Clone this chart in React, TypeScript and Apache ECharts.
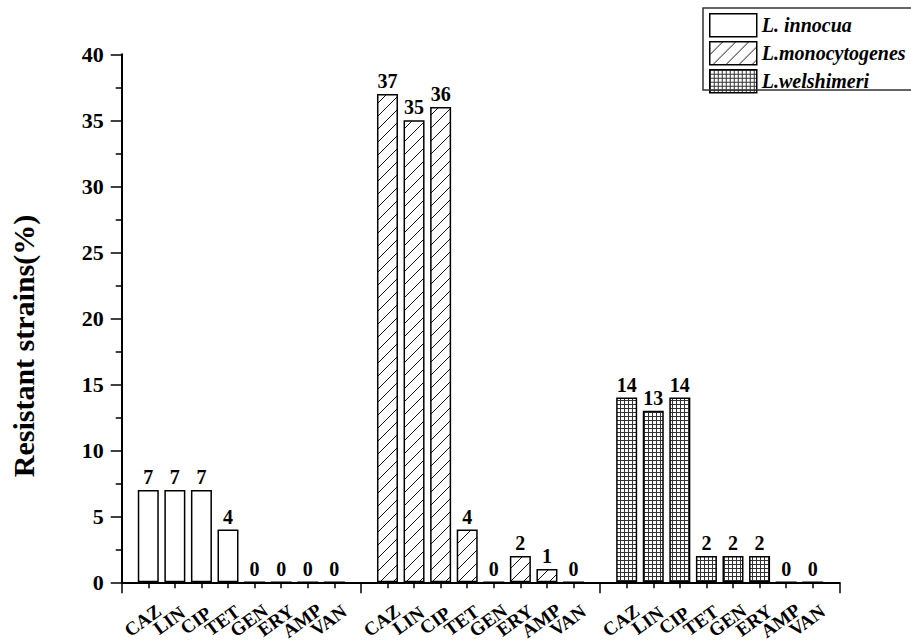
import React, { useEffect, useRef } from "react";
import * as echarts from "echarts";

// Antibiotics tested for each species
const antibiotics = ["CAZ", "LIN", "CIP", "TET", "GEN", "ERY", "AMP", "VAN"];

// Resistant strains (%) per antibiotic
const innocuaValues = [7, 7, 7, 4, 0, 0, 0, 0];
const monocytogenesValues = [37, 35, 36, 4, 0, 2, 1, 0];
const welshimeriValues = [14, 13, 14, 2, 2, 2, 0, 0];

const speciesNames = ["L. innocua", "L.monocytogenes", "L.welshimeri"];
const yAxisTitle = "Resistant strains(%)";
const yMin = 0;
const yMax = 40;
const yStep = 5;

const FONT = "Liberation Serif";

// Category slots: an empty slot before, between and after the three groups
const axisSlots: string[] = [
  "",
  ...antibiotics,
  "",
  ...antibiotics,
  "",
  ...antibiotics,
  "",
];

function groupData(values: number[], groupIndex: number): (number | string)[] {
  const out: (number | string)[] = axisSlots.map(() => "-");
  const start = 1 + groupIndex * (antibiotics.length + 1);
  values.forEach((v, i) => {
    out[start + i] = v;
  });
  return out;
}

function makeHatch(): HTMLCanvasElement {
  const s = 13;
  const c = document.createElement("canvas");
  c.width = s;
  c.height = s;
  const ctx = c.getContext("2d")!;
  ctx.fillStyle = "#fff";
  ctx.fillRect(0, 0, s, s);
  ctx.strokeStyle = "#111";
  ctx.lineWidth = 1;
  ctx.beginPath();
  ctx.moveTo(-1, s + 1);
  ctx.lineTo(s + 1, -1);
  ctx.moveTo(-2, 2);
  ctx.lineTo(2, -2);
  ctx.moveTo(s - 2, s + 2);
  ctx.lineTo(s + 2, s - 2);
  ctx.stroke();
  return c;
}

function makeGrid(): HTMLCanvasElement {
  const s = 4;
  const c = document.createElement("canvas");
  c.width = s;
  c.height = s;
  const ctx = c.getContext("2d")!;
  ctx.fillStyle = "#fff";
  ctx.fillRect(0, 0, s, s);
  ctx.fillStyle = "#333";
  ctx.fillRect(0, 0, s, 1);
  ctx.fillRect(0, 0, 1, s);
  return c;
}

export default function App() {
  const ref = useRef<HTMLDivElement>(null);

  useEffect(() => {
    if (!ref.current) return;
    const chart = echarts.init(ref.current, undefined, { renderer: "svg" });

    const fills: any[] = [
      "#fff",
      { image: makeHatch(), repeat: "repeat" },
      { image: makeGrid(), repeat: "repeat" },
    ];
    const groups = [innocuaValues, monocytogenesValues, welshimeriValues];

    const series = groups.map((vals, gi) => ({
      name: speciesNames[gi],
      type: "bar",
      xAxisIndex: 0,
      yAxisIndex: 0,
      data: groupData(vals, gi),
      barWidth: 21,
      barGap: "-100%",
      itemStyle: {
        color: fills[gi],
        borderColor: "#000",
        borderWidth: 1.5,
      },
      label: {
        show: true,
        position: "top",
        distance: 3,
        color: "#000",
        fontFamily: FONT,
        fontWeight: "bold",
        fontSize: 20,
      },
    }));

    chart.setOption({
      animation: false,
      backgroundColor: "#fff",
      textStyle: { fontFamily: FONT },
      grid: { left: 121.7, right: 71.7, top: 54.3, bottom: 61.7, containLabel: false },
      legend: {
        orient: "vertical",
        left: 709,
        top: 13,
        padding: 0,
        itemGap: 3.5,
        itemWidth: 47,
        itemHeight: 23,
        icon: "rect",
        borderWidth: 0,
        selectedMode: false,
        itemStyle: { borderColor: "#000", borderWidth: 1.5 },
        textStyle: {
          fontFamily: FONT,
          fontWeight: "bold",
          fontStyle: "italic",
          fontSize: 20,
          color: "#000",
        },
        data: speciesNames,
      },
      xAxis: [
        {
          type: "category",
          data: axisSlots,
          boundaryGap: false,
          axisLine: { show: true, lineStyle: { color: "#000", width: 2 } },
          axisTick: {
            show: true,
            length: 11,
            interval: (i: number) => i % (antibiotics.length + 1) === 0,
            lineStyle: { color: "#000", width: 1.5 },
          },
          axisLabel: {
            show: true,
            interval: 0,
            rotate: 36,
            align: "center",
            verticalAlign: "middle",
            padding: [0, 14, 0, 0],
            margin: 34,
            color: "#000",
            fontFamily: FONT,
            fontWeight: "bold",
            fontSize: 19,
          },
          splitLine: { show: false },
        },
        {
          type: "category",
          data: axisSlots,
          boundaryGap: false,
          position: "bottom",
          axisLine: { show: false },
          axisTick: {
            show: true,
            length: 6,
            interval: (i: number) => i % (antibiotics.length + 1) !== 0,
            lineStyle: { color: "#000", width: 1.5 },
          },
          axisLabel: { show: false },
          splitLine: { show: false },
        },
      ],
      yAxis: {
        type: "value",
        min: yMin,
        max: yMax,
        interval: yStep,
        axisLine: { show: true, lineStyle: { color: "#000", width: 2 } },
        axisTick: { show: true, length: 11, lineStyle: { color: "#000", width: 1.5 } },
        minorTick: { show: true, splitNumber: 2, length: 6, lineStyle: { color: "#000", width: 1.5 } },
        splitLine: { show: false },
        axisLabel: {
          margin: 18,
          color: "#000",
          fontFamily: FONT,
          fontWeight: "bold",
          fontSize: 22,
        },
      },
      graphic: [
        {
          // frame around the legend, running off the right edge
          type: "rect",
          shape: { x: 703, y: 8, width: 230, height: 82 },
          style: { fill: "none", stroke: "#333", lineWidth: 1.5 },
          z: 100,
        },
        {
          type: "text",
          x: 23,
          y: 346,
          rotation: Math.PI / 2,
          style: {
            text: yAxisTitle,
            fill: "#000",
            fontFamily: FONT,
            fontWeight: "bold",
            fontSize: 30,
            align: "center",
            verticalAlign: "middle",
          },
        },
      ],
      series,
    });

    return () => chart.dispose();
  }, []);

  return (
    <div
      ref={ref}
      style={{ position: "absolute", left: 0, top: 0, width: 911, height: 644 }}
    />
  );
}
